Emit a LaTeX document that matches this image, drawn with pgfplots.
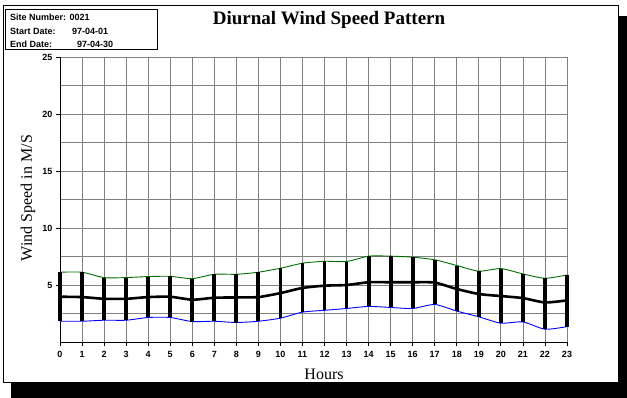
\documentclass[border=0pt]{standalone}
\usepackage{fontspec}
\setmainfont{Liberation Serif}
\newfontfamily\sansb{Liberation Sans}
\usepackage{pgfplots}
\usepackage{pgfplotstable}
\pgfplotsset{compat=1.18}
\definecolor{maxgreen}{RGB}{0,110,0}
\definecolor{minblue}{RGB}{0,0,255}
\definecolor{gridgray}{RGB}{128,128,128}

\pgfplotstableread{
hour mean max min
0  3.97 6.12 1.82
1  3.94 6.12 1.82
2  3.79 5.65 1.91
3  3.79 5.65 1.91
4  3.94 5.74 2.15
5  3.97 5.76 2.15
6  3.71 5.56 1.79
7  3.88 5.94 1.82
8  3.91 5.94 1.71
9  3.94 6.12 1.82
10 4.29 6.47 2.09
11 4.74 6.91 2.62
12 4.94 7.08 2.78
13 5.00 7.06 2.94
14 5.24 7.53 3.12
15 5.24 7.53 3.03
16 5.24 7.44 2.94
17 5.21 7.21 3.29
18 4.65 6.71 2.71
19 4.21 6.21 2.21
20 4.03 6.44 1.65
21 3.85 5.97 1.76
22 3.47 5.59 1.12
23 3.65 5.88 1.35
}\winddata

\begin{document}
\begin{tikzpicture}[x=1pt,y=1pt]
\useasboundingbox (0,0) rectangle (627,398);
% shadow
\fill[black] (11,0) rectangle (627,15);
\fill[black] (618,0) rectangle (627,382);
% frame
\draw[black, line width=1pt, fill=white] (3,15) rectangle (618,392);
% info box
\draw[black, line width=1pt] (5,348) rectangle (157,388);
\node[anchor=west, inner sep=0pt, font=\sansb\bfseries\fontsize{9}{9}\selectfont] at (10,380.3) {Site Number: 0021};
\node[anchor=west, inner sep=0pt, font=\sansb\bfseries\fontsize{9}{9}\selectfont] at (10,366.3) {Start Date:};
\node[anchor=west, inner sep=0pt, font=\sansb\bfseries\fontsize{9}{9}\selectfont] at (72,366.3) {97-04-01};
\node[anchor=west, inner sep=0pt, font=\sansb\bfseries\fontsize{9}{9}\selectfont] at (10,353.7) {End Date:};
\node[anchor=west, inner sep=0pt, font=\sansb\bfseries\fontsize{9}{9}\selectfont] at (77,353.7) {97-04-30};
% title and labels
\node[font=\bfseries\fontsize{19}{19}\selectfont] at (329,378) {Diurnal Wind Speed Pattern};
\node[font=\fontsize{16}{16}\selectfont] at (324,24) {Hours};
\node[font=\fontsize{16}{16}\selectfont, rotate=90] at (28,200) {Wind Speed in M/S};

\begin{axis}[
  at={(60pt,56pt)}, anchor=south west,
  scale only axis, width=507pt, height=285pt,
  xmin=0, xmax=23, ymin=0, ymax=25,
  axis x line*=bottom, axis y line*=left,
  axis line style={-, black, line width=0.8pt},
  xtick={0,1,...,23},
  ytick={5,10,15,20,25},
  minor ytick={2.5,7.5,12.5,17.5,22.5},
  grid=both,
  major grid style={gridgray, line width=0.8pt},
  minor grid style={gridgray, line width=0.8pt},
  minor tick length=0pt,
  tick align=outside,
  major tick length=4pt,
  tick style={black, line width=0.8pt},
  /pgf/number format/assume math mode=true,
  ticklabel style={font=\sansb\bfseries\fontsize{9}{9}\selectfont},
  xticklabel style={yshift=-2pt},
  clip=false,
]
\addplot[maxgreen, line width=0.9pt, smooth, tension=0.4] table[x=hour, y=max] {\winddata};
\addplot[minblue, line width=0.9pt, smooth, tension=0.4] table[x=hour, y=min] {\winddata};
\addplot[black, line width=2.6pt, smooth, tension=0.4] table[x=hour, y=mean] {\winddata};
\addplot[draw=none, mark=none,
  error bars/.cd, y dir=both, y explicit, error mark=none,
  error bar style={black, line width=3.8pt}]
  table[x=hour, y=mean,
        y error plus expr=\thisrow{max}-\thisrow{mean},
        y error minus expr=\thisrow{mean}-\thisrow{min}] {\winddata};
\end{axis}
\end{tikzpicture}
\end{document}
